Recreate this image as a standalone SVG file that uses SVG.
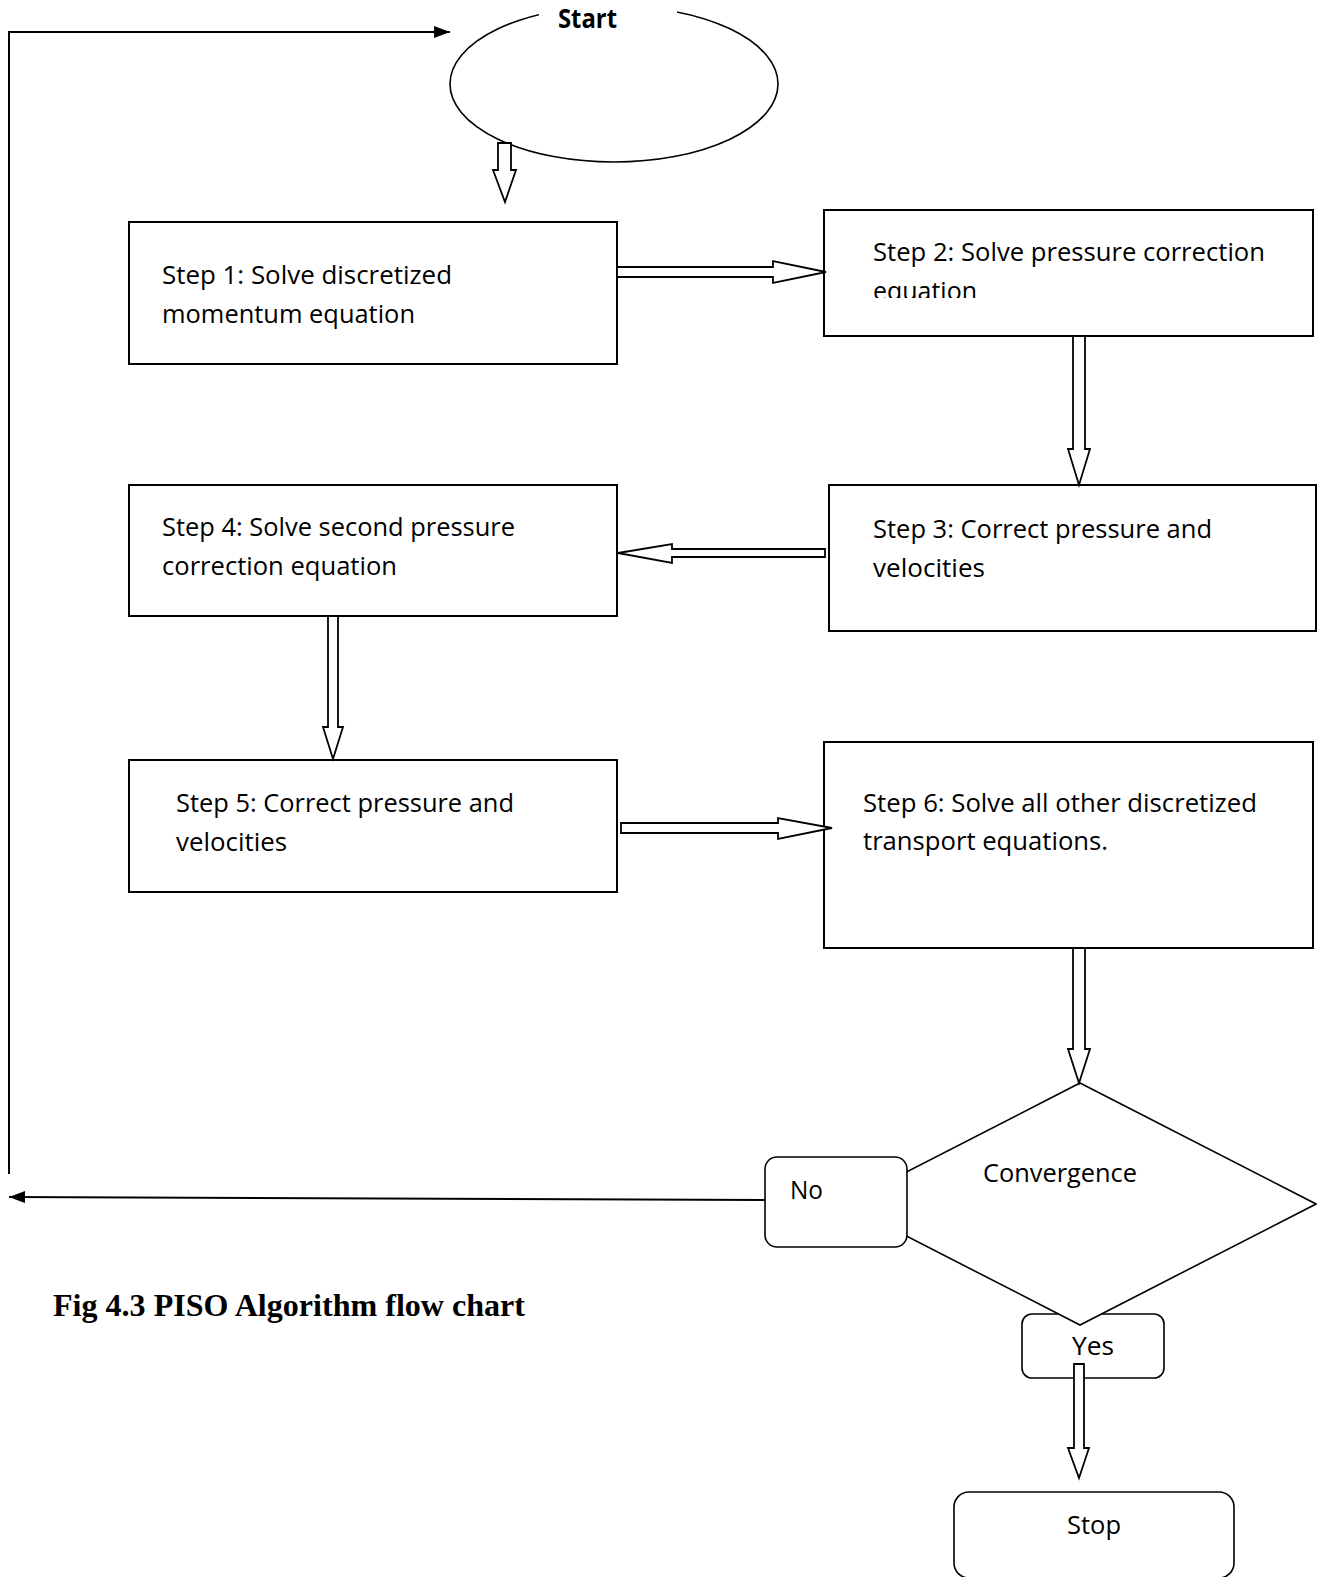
<svg xmlns="http://www.w3.org/2000/svg" width="1317" height="1577" viewBox="0 0 1317 1577">
<style>
.box{fill:#fff;stroke:#000;stroke-width:2}
.shape{fill:#fff;stroke:#000;stroke-width:1.6}
.blk{fill:#fff;stroke:#000;stroke-width:1.8;stroke-linejoin:miter}
.ln{fill:none;stroke:#000;stroke-width:2}
.t{font-family:"Open Sans","Liberation Sans",sans-serif;font-size:26px;fill:#000}
.tb{font-family:"Open Sans","Liberation Sans",sans-serif;font-size:26px;font-weight:bold;fill:#000}
.cap{font-family:"Liberation Serif","Times New Roman",serif;font-size:32px;font-weight:bold;fill:#000}
</style>
<defs>
<marker id="ah" viewBox="0 0 16 12" refX="16" refY="6" markerWidth="16" markerHeight="12" markerUnits="userSpaceOnUse" orient="auto">
<path d="M0,0 L16,6 L0,12 Z" fill="#000"/>
</marker>
<clipPath id="c2"><rect x="824" y="210" width="489" height="88"/></clipPath>
</defs>
<rect width="1317" height="1577" fill="#fff"/>
<g id="nodes">
<g id="start">
<ellipse class="shape" cx="614" cy="84" rx="164" ry="78"/>
<rect x="539" y="0" width="138" height="24" fill="#fff"/>
<text class="tb" x="558" y="28" textLength="59" lengthAdjust="spacingAndGlyphs">Start</text>
</g>
<g id="step1">
<rect class="box" x="129" y="222" width="488" height="142"/>
<text class="t" x="162" y="284" textLength="290" lengthAdjust="spacingAndGlyphs">Step 1: Solve discretized</text>
<text class="t" x="162" y="323" textLength="253" lengthAdjust="spacingAndGlyphs">momentum equation</text>
</g>
<g id="step2">
<rect class="box" x="824" y="210" width="489" height="126"/>
<text class="t" x="873" y="261" textLength="392" lengthAdjust="spacingAndGlyphs">Step 2: Solve pressure correction</text>
<text class="t" x="873" y="300" textLength="104" lengthAdjust="spacingAndGlyphs" clip-path="url(#c2)">equation</text>
</g>
<g id="step3">
<rect class="box" x="829" y="485" width="487" height="146"/>
<text class="t" x="873" y="538" textLength="339" lengthAdjust="spacingAndGlyphs">Step 3: Correct pressure and</text>
<text class="t" x="873" y="577" textLength="112" lengthAdjust="spacingAndGlyphs">velocities</text>
</g>
<g id="step4">
<rect class="box" x="129" y="485" width="488" height="131"/>
<text class="t" x="162" y="536" textLength="353" lengthAdjust="spacingAndGlyphs">Step 4: Solve second pressure</text>
<text class="t" x="162" y="575" textLength="235" lengthAdjust="spacingAndGlyphs">correction equation</text>
</g>
<g id="step5">
<rect class="box" x="129" y="760" width="488" height="132"/>
<text class="t" x="176" y="812" textLength="338" lengthAdjust="spacingAndGlyphs">Step 5: Correct pressure and</text>
<text class="t" x="176" y="851" textLength="111" lengthAdjust="spacingAndGlyphs">velocities</text>
</g>
<g id="step6">
<rect class="box" x="824" y="742" width="489" height="206"/>
<text class="t" x="863" y="812" textLength="394" lengthAdjust="spacingAndGlyphs">Step 6: Solve all other discretized</text>
<text class="t" x="863" y="850" textLength="245" lengthAdjust="spacingAndGlyphs">transport equations.</text>
</g>
<g id="yes">
<rect class="shape" x="1022" y="1314" width="142" height="64" rx="10"/>
<text class="t" x="1072" y="1355" textLength="42" lengthAdjust="spacingAndGlyphs">Yes</text>
</g>
<g id="convergence">
<polygon class="shape" points="1080,1083 1316,1204 1080,1325 844,1204"/>
<text class="t" x="983" y="1182" textLength="154" lengthAdjust="spacingAndGlyphs">Convergence</text>
</g>
<g id="no">
<rect class="shape" x="765" y="1157" width="142" height="90" rx="12"/>
<text class="t" x="790" y="1199" textLength="33" lengthAdjust="spacingAndGlyphs">No</text>
</g>
<g id="stop">
<rect class="shape" x="954" y="1492" width="280" height="86" rx="15"/>
<text class="t" x="1067" y="1534" textLength="54" lengthAdjust="spacingAndGlyphs">Stop</text>
</g>
</g>
<g id="connectors">
<polyline class="ln" points="9,1174 9,32 450,32" marker-end="url(#ah)"/>
<polyline class="ln" points="765,1200 9,1197" marker-end="url(#ah)"/>
<polygon class="blk" points="498,143 511,143 511,170 516,170 505,202 493,170 498,170"/>
<polygon class="blk" points="617,267 773,267 773,261 826,272 773,283 773,277 617,277"/>
<polygon class="blk" points="1073,336 1085,336 1085,449 1090,449 1079,485 1068,449 1073,449"/>
<polygon class="blk" points="825,549 672,549 672,544 618,553 672,563 672,557 825,557"/>
<polygon class="blk" points="328,616 338,616 338,727 343,727 333,759 323,727 328,727"/>
<polygon class="blk" points="621,823 778,823 778,818 832,828 778,839 778,833 621,833"/>
<polygon class="blk" points="1073,948 1085,948 1085,1049 1090,1049 1079,1083 1068,1049 1073,1049"/>
<polygon class="blk" points="1074,1364 1084,1364 1084,1448 1089,1448 1079,1478 1068,1448 1074,1448"/>
</g>
<text class="cap" x="53" y="1316" textLength="472" lengthAdjust="spacingAndGlyphs">Fig 4.3 PISO Algorithm flow chart</text>
</svg>
